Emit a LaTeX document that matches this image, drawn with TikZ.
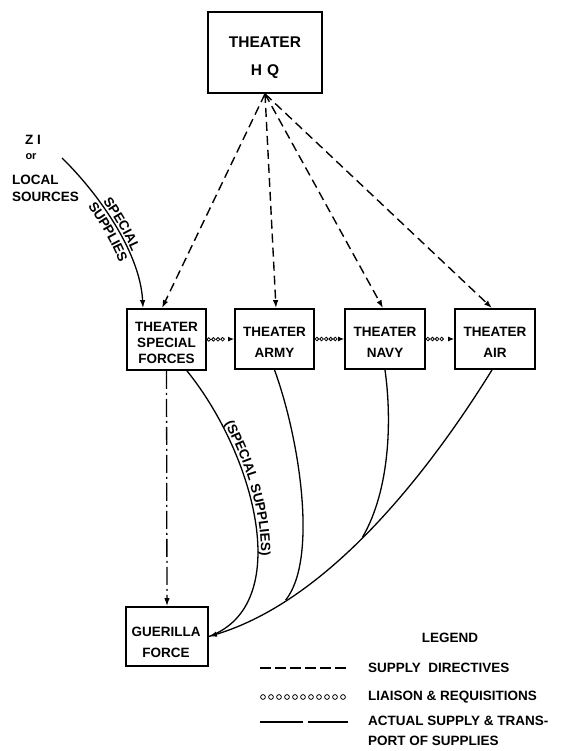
\documentclass[tikz,border=0pt]{standalone}
\usepackage{fontspec}
\setmainfont{Liberation Sans}
\usetikzlibrary{arrows.meta,decorations.markings,decorations.text}
\newcommand\lblfont{\bfseries\fontsize{13.5}{16}\selectfont}
\tikzset{
  txt/.style={font=\bfseries\fontsize{13.5}{17}\selectfont, inner sep=0pt},
  boxtxt/.style={font=\bfseries\fontsize{13.5}{21}\selectfont, inner sep=0pt, align=center},
  box/.style={draw, line width=1.8pt, inner sep=0pt},
  directive/.style={line width=1.4pt, dash pattern=on 9pt off 5pt, -{Latex[length=8pt,width=5.5pt]}},
  supply/.style={line width=1.3pt},
  supplyarrow/.style={line width=1.3pt, -{Latex[length=8pt,width=5.5pt]}},
  dashdot/.style={line width=1.3pt, dash pattern=on 18pt off 4pt on 2pt off 4pt, -{Latex[length=8pt,width=5.5pt]}},
  liaison/.style={line width=1pt, dash pattern=on 0pt off 500pt, line cap=butt,
    -{Latex[length=6pt,width=5pt]}, postaction={decorate},
    decoration={markings, mark=between positions 0.07 and 0.72 step 4.6pt with {\draw[line width=0.8pt, solid] (0,0) circle (1.8pt);}}},
}
\begin{document}
\begin{tikzpicture}[x=1pt,y=-1pt]
\useasboundingbox (0,0) rectangle (562,751);
% boxes
\node[box, minimum width=114pt, minimum height=81pt] (hq) at (265,52.5) {};
\node[boxtxt, font=\bfseries\fontsize{15.5}{28}\selectfont] (hqtxt) at (265,58) {THEATER\\H\,\,Q};
\node[box, minimum width=79pt, minimum height=61pt] (tsf) at (166.5,339.5) {};
\node[boxtxt, font=\bfseries\fontsize{13.5}{16}\selectfont] (tsftxt) at (166.5,343) {THEATER\\SPECIAL\\FORCES};
\node[box, minimum width=79pt, minimum height=60pt] (army) at (274.5,339) {};
\node[boxtxt] (armytxt) at (274.5,342) {THEATER\\ARMY};
\node[box, minimum width=80pt, minimum height=60pt] (navy) at (385,339) {};
\node[boxtxt] (navytxt) at (385,342) {THEATER\\NAVY};
\node[box, minimum width=80pt, minimum height=60pt] (air) at (495,339) {};
\node[boxtxt] (airtxt) at (495,342) {THEATER\\AIR};
\node[box, minimum width=82pt, minimum height=59pt] (guer) at (167,636.5) {};
\node[boxtxt] (guertxt) at (166,642) {GUERILLA\\FORCE};
% sources
\node[txt] (zi) at (33,140) {Z I};
\node[font=\bfseries\fontsize{11}{13}\selectfont, inner sep=0pt] (or) at (31,157) {or};
\node[txt, anchor=west, align=left] (local) at (12,188.5) {LOCAL\\SOURCES};
\coordinate (zisrc) at (62,158);
% directives
\draw[directive] (hq.south) -- ([xshift=-4.5pt]tsf.north);
\draw[directive] (hq.south) -- ([xshift=1.5pt]army.north);
\draw[directive] (hq.south) -- ([xshift=-2pt]navy.north);
\draw[directive] (hq.south) -- ([xshift=-3pt]air.north);
% special supplies from ZI
\draw[supplyarrow] (zisrc) .. controls (95,190) and (140,250) .. ([xshift=-23.5pt]tsf.north);
\path[decorate, decoration={text along path, text={|\lblfont|SPECIAL}, text align={left indent=59pt}, raise=3pt}]
  (zisrc) .. controls (95,190) and (140,250) .. ([xshift=-23.5pt]tsf.north);
\path[decorate, decoration={text along path, text={|\lblfont|SUPPLIES}, text align={left indent=55pt}, raise=-12.5pt}]
  (zisrc) .. controls (95,190) and (140,250) .. ([xshift=-23.5pt]tsf.north);
% liaison
\draw[liaison] (tsf.east) -- (army.west);
\draw[liaison] (army.east) -- (navy.west);
\draw[liaison] (navy.east) -- (air.west);
% TSF to guerilla
\draw[dashdot] (tsf.south) -- (guer.north);
% actual supply
\draw[supplyarrow] ([xshift=-3pt]air.south) .. controls (430,470) and (330,600) .. node[coordinate,pos=0.535] (mN) {} node[coordinate,pos=0.78] (mA) {} (guer.east);
\draw[supply] ([xshift=20.5pt]tsf.south) .. controls (255,455) and (295,605) .. (guer.east);
\path[decorate, decoration={text along path, text={|\lblfont|(SPECIAL SUPPLIES)}, text align={left indent=64pt}, raise=3pt}]
  ([xshift=20.5pt]tsf.south) .. controls (255,455) and (295,605) .. (guer.east);
\draw[supply] (army.south) .. controls (300,440) and (318,560) .. (mA);
\draw[supply] (navy.south) .. controls (392,420) and (390,490) .. (mN);
% legend
\node[txt] (legend) at (450,638) {LEGEND};
\draw[line width=1.3pt, dash pattern=on 11pt off 4pt] (260,668) -- (348,668);
\node[txt, anchor=west] (l1) at (368,668) {SUPPLY\ \ DIRECTIVES};
\foreach \i in {0,...,10} \draw[line width=0.8pt] (263+\i*8,697) circle (2.4pt);
\node[txt, anchor=west] (l2) at (368,697) {LIAISON \& REQUISITIONS};
\draw[line width=1.3pt] (260,722) -- (303,722);
\draw[line width=1.3pt] (308,722) -- (348,722);
\node[txt, anchor=west, align=left, font=\bfseries\fontsize{13.5}{20}\selectfont] (l3) at (368,731) {ACTUAL SUPPLY \& TRANS-\\PORT OF SUPPLIES};
\end{tikzpicture}
\end{document}
